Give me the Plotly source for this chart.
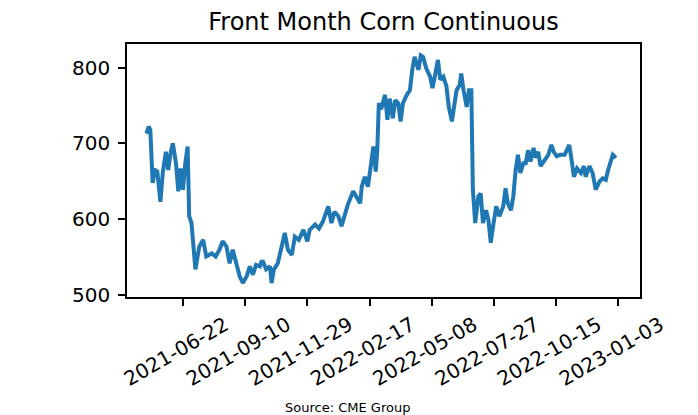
import plotly.graph_objects as go

# front month corn settlement, cents per bushel
dates = [
    "2021-05-06", "2021-05-09", "2021-05-11", "2021-05-14", "2021-05-17", "2021-05-20",
    "2021-05-24", "2021-05-27", "2021-05-31", "2021-06-03", "2021-06-06", "2021-06-09",
    "2021-06-13", "2021-06-16", "2021-06-19", "2021-06-22", "2021-06-25", "2021-06-28",
    "2021-06-30", "2021-07-03", "2021-07-08", "2021-07-13", "2021-07-18", "2021-07-22",
    "2021-07-29", "2021-08-03", "2021-08-08", "2021-08-12", "2021-08-17", "2021-08-21",
    "2021-08-25", "2021-08-30", "2021-09-03", "2021-09-07", "2021-09-12", "2021-09-16",
    "2021-09-20", "2021-09-24", "2021-09-29", "2021-10-01", "2021-10-03", "2021-10-07",
    "2021-10-12", "2021-10-14", "2021-10-17", "2021-10-22", "2021-10-27", "2021-10-31",
    "2021-11-04", "2021-11-09", "2021-11-13", "2021-11-18", "2021-11-24", "2021-11-29",
    "2021-12-02", "2021-12-09", "2021-12-14", "2021-12-19", "2021-12-26", "2021-12-30",
    "2022-01-03", "2022-01-08", "2022-01-12", "2022-01-16", "2022-01-20", "2022-01-27",
    "2022-01-31", "2022-02-05", "2022-02-07", "2022-02-11", "2022-02-15", "2022-02-17",
    "2022-02-22", "2022-02-25", "2022-02-27", "2022-03-01", "2022-03-04", "2022-03-09",
    "2022-03-12", "2022-03-15", "2022-03-19", "2022-03-22", "2022-03-26", "2022-03-29",
    "2022-04-01", "2022-04-06", "2022-04-10", "2022-04-13", "2022-04-16", "2022-04-21",
    "2022-04-24", "2022-04-27", "2022-05-01", "2022-05-06", "2022-05-09", "2022-05-12",
    "2022-05-16", "2022-05-19", "2022-05-23", "2022-05-27", "2022-05-30", "2022-06-03",
    "2022-06-06", "2022-06-09", "2022-06-13", "2022-06-15", "2022-06-18", "2022-06-22",
    "2022-06-25", "2022-06-28", "2022-06-30", "2022-07-03", "2022-07-07", "2022-07-10",
    "2022-07-13", "2022-07-17", "2022-07-20", "2022-07-23", "2022-07-26", "2022-07-30",
    "2022-08-03", "2022-08-08", "2022-08-11", "2022-08-14", "2022-08-18", "2022-08-21",
    "2022-08-24", "2022-08-27", "2022-08-30", "2022-09-03", "2022-09-06", "2022-09-09",
    "2022-09-12", "2022-09-16", "2022-09-19", "2022-09-22", "2022-09-25", "2022-10-01",
    "2022-10-05", "2022-10-09", "2022-10-12", "2022-10-16", "2022-10-20", "2022-10-26",
    "2022-11-01", "2022-11-04", "2022-11-07", "2022-11-11", "2022-11-16", "2022-11-20",
    "2022-11-22", "2022-11-27", "2022-12-01", "2022-12-05", "2022-12-10", "2022-12-14",
    "2022-12-18", "2022-12-21", "2022-12-25", "2022-12-27", "2022-12-31",
]
prices = [
    713, 722, 718, 648, 665, 663,
    623, 661, 689, 665, 687, 700,
    674, 637, 667, 639, 674, 696,
    604, 595, 534, 564, 573, 551,
    555, 551, 560, 571, 564, 542,
    560, 542, 525, 516, 525, 538,
    527, 540, 538, 544, 544, 534,
    538, 516, 534, 542, 564, 582,
    560, 553, 577, 573, 586, 571,
    586, 593, 588, 597, 617, 595,
    610, 604, 591, 604, 619, 637,
    630, 621, 643, 656, 643, 661,
    696, 663, 691, 753, 745, 764,
    731, 759, 733, 757, 753, 729,
    753, 764, 770, 797, 814, 797,
    816, 814, 799, 788, 773, 788,
    810, 784, 788, 775, 748, 729,
    748, 770, 777, 792, 770, 748,
    770, 770, 639, 595, 630, 634,
    595, 612, 599, 569, 591, 617,
    604, 617, 641, 621, 612, 630,
    665, 685, 661, 674, 674, 691,
    676, 694, 681, 689, 670, 678,
    685, 698, 689, 683, 685, 685,
    698, 678, 656, 667, 661, 670,
    656, 670, 661, 639, 650, 654,
    652, 665, 678, 685, 681,
]

tick_dates = ["2021-06-22", "2021-09-10", "2021-11-29", "2022-02-17",
              "2022-05-08", "2022-07-27", "2022-10-15", "2023-01-03"]
y_ticks = [500, 600, 700, 800]

fig = go.Figure()
fig.add_trace(go.Scatter(x=dates, y=prices, mode="lines",
                         line=dict(color="#1f77b4", width=4),
                         showlegend=False))

axis_style = dict(showline=True, linecolor="black", linewidth=1.5, mirror=True,
                  ticks="outside", ticklen=7, tickwidth=1.5, tickcolor="black",
                  showgrid=False, zeroline=False,
                  tickfont=dict(family="DejaVu Sans", size=20, color="black"))

fig.update_xaxes(**axis_style, type="date", range=["2021-04-11", "2023-01-31"],
                 tickvals=tick_dates, ticktext=tick_dates, tickangle=-30,
                 ticklabelshift=42, ticklabelstandoff=0)
fig.update_yaxes(**axis_style, range=[497.6, 831], tickvals=y_ticks,
                 ticklabelstandoff=4)

# page body adds an 8px offset, so the margins are pulled in by 8px
fig.update_layout(
    width=698, height=415,
    margin=dict(l=119, r=66, t=36, b=126),
    paper_bgcolor="white", plot_bgcolor="white",
    title=dict(text="Front Month Corn Continuous", x=0.5, xref="paper",
               y=1 - 14 / 415, yref="container", yanchor="middle",
               font=dict(family="DejaVu Sans", size=24, color="black")),
)
fig.add_annotation(text="Source: CME Group", x=0.429, y=-0.435,
                   xref="paper", yref="paper",
                   showarrow=False, xanchor="center", yanchor="middle",
                   font=dict(family="DejaVu Sans", size=13, color="black"))

fig.write_html("out.html")
